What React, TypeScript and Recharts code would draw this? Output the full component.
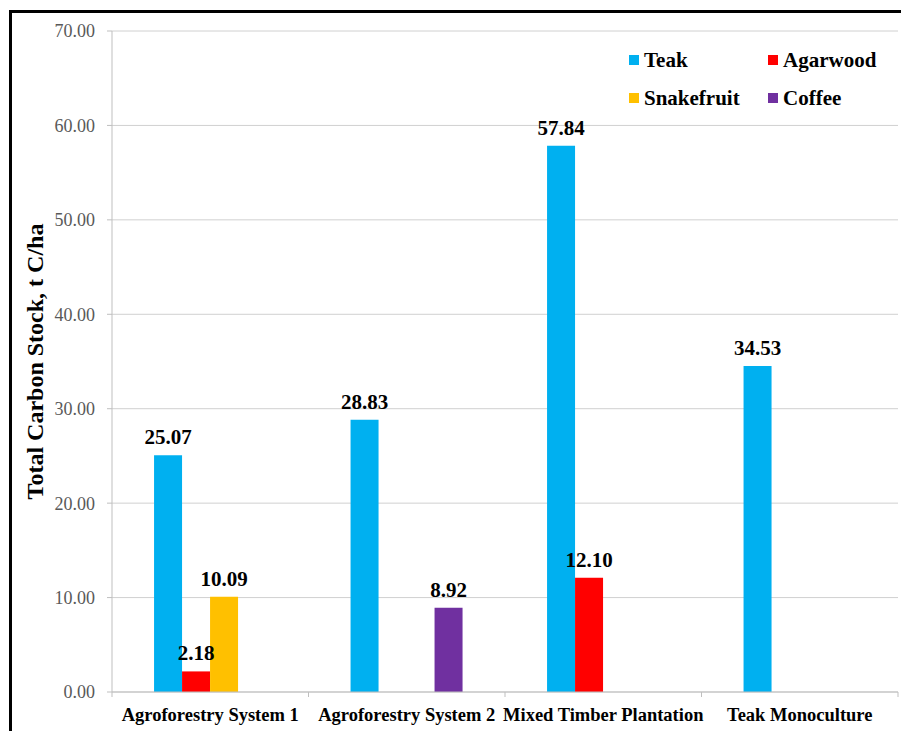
import React from 'react';
import { BarChart, Bar, XAxis, YAxis, CartesianGrid, LabelList, Label } from 'recharts';

const categories = ['Agroforestry System 1', 'Agroforestry System 2', 'Mixed Timber Plantation', 'Teak Monoculture'];
const teak = [25.07, 28.83, 57.84, 34.53];
const agarwood = [2.18, null, 12.1, null];
const snakefruit = [10.09, null, null, null];
const coffee = [null, 8.92, null, null];

const seriesNames = ['Teak', 'Agarwood', 'Snakefruit', 'Coffee'];
const seriesColors = ['#00B0F0', '#FF0000', '#FFC000', '#7030A0'];
const yTicks = [0, 10, 20, 30, 40, 50, 60, 70];
const yTitle = 'Total Carbon Stock, t C/ha';

const seriesValues = [teak, agarwood, snakefruit, coffee];

const data = categories.map((name, i) => {
  const row: any = { name };
  seriesNames.forEach((s, k) => {
    row[s] = seriesValues[k][i];
  });
  return row;
});

const FONT = "Liberation Serif, Tinos, Times New Roman, DejaVu Serif, serif";

const fmtLabel = (v: any) => (v === null || v === undefined ? '' : Number(v).toFixed(2));

const YTitle = (props: any) => {
  const vb = props.viewBox || { x: 0, y: 0, width: 0, height: 0 };
  const cx = vb.x + 23;
  const cy = vb.y + vb.height / 2;
  return (
    <text
      x={cx}
      y={cy}
      transform={`rotate(-90 ${cx} ${cy})`}
      textAnchor="middle"
      dominantBaseline="central"
      style={{ fontFamily: FONT, fontWeight: 'bold', fontSize: 24 }}
      fill="#000"
    >
      {yTitle}
    </text>
  );
};

const XTick = (props: any) => {
  const { x, y, payload, index } = props;
  const off = payload && payload.offset ? payload.offset : 0;
  const axisY = y - 8;
  return (
    <g>
      <line x1={x - off} y1={axisY} x2={x - off} y2={axisY + 5} stroke="#bfbfbf" />
      {index === categories.length - 1 ? (
        <line x1={x + off} y1={axisY} x2={x + off} y2={axisY + 5} stroke="#bfbfbf" />
      ) : null}
      <text x={x} y={y} dy={21} textAnchor="middle" style={{ fontFamily: FONT, fontWeight: 'bold', fontSize: 18.5 }} fill="#000">
        {payload.value}
      </text>
    </g>
  );
};

export default function App() {
  return (
    <div style={{ paddingTop: 2, paddingLeft: 1 }}>
      <div
        style={{
          position: 'relative',
          borderTop: '3px solid #000',
          borderLeft: '3px solid #000',
          width: 897,
          height: 718,
          background: '#fff',
        }}
      >
        <BarChart
          width={897}
          height={718}
          data={data}
          margin={{ top: 18, right: 11, left: 0, bottom: 0 }}
          barCategoryGap="21.4%"
          barGap={0}
        >
          <CartesianGrid vertical={false} stroke="#d0d0d0" />
          <XAxis
            dataKey="name"
            height={39}
            axisLine={{ stroke: '#bfbfbf' }}
            tickLine={false}
            tick={<XTick />}
            interval={0}
          />
          <YAxis
            width={100}
            domain={[0, 70]}
            ticks={yTicks}
            interval={0}
            tickFormatter={(v: number) => v.toFixed(2)}
            axisLine={{ stroke: '#bfbfbf' }}
            tickLine={{ stroke: '#bfbfbf' }}
            tickSize={5}
            tickMargin={12}
            tick={{ fontFamily: FONT, fontSize: 18, fill: '#595959' }}
          >
            <Label content={<YTitle />} />
          </YAxis>
          {seriesNames.map((s, i) => (
            <Bar key={s} dataKey={s} fill={seriesColors[i]} isAnimationActive={false}>
              <LabelList
                dataKey={s}
                position="top"
                offset={11}
                formatter={fmtLabel}
                style={{ fontFamily: FONT, fontWeight: 'bold', fontSize: 21, fill: '#000' }}
              />
            </Bar>
          ))}
        </BarChart>
        <div
          style={{
            position: 'absolute',
            left: 617,
            top: 28,
            display: 'grid',
            gridTemplateColumns: '139px 140px',
            gridAutoRows: '38px',
            fontFamily: FONT,
            fontWeight: 'bold',
            fontSize: 21,
            color: '#000',
          }}
        >
          {seriesNames.map((s, i) => (
            <div key={s} style={{ display: 'flex', alignItems: 'center', whiteSpace: 'nowrap' }}>
              <span
                style={{ display: 'inline-block', width: 10, height: 10, background: seriesColors[i], marginRight: 5 }}
              />
              <span>{s}</span>
            </div>
          ))}
        </div>
      </div>
    </div>
  );
}
